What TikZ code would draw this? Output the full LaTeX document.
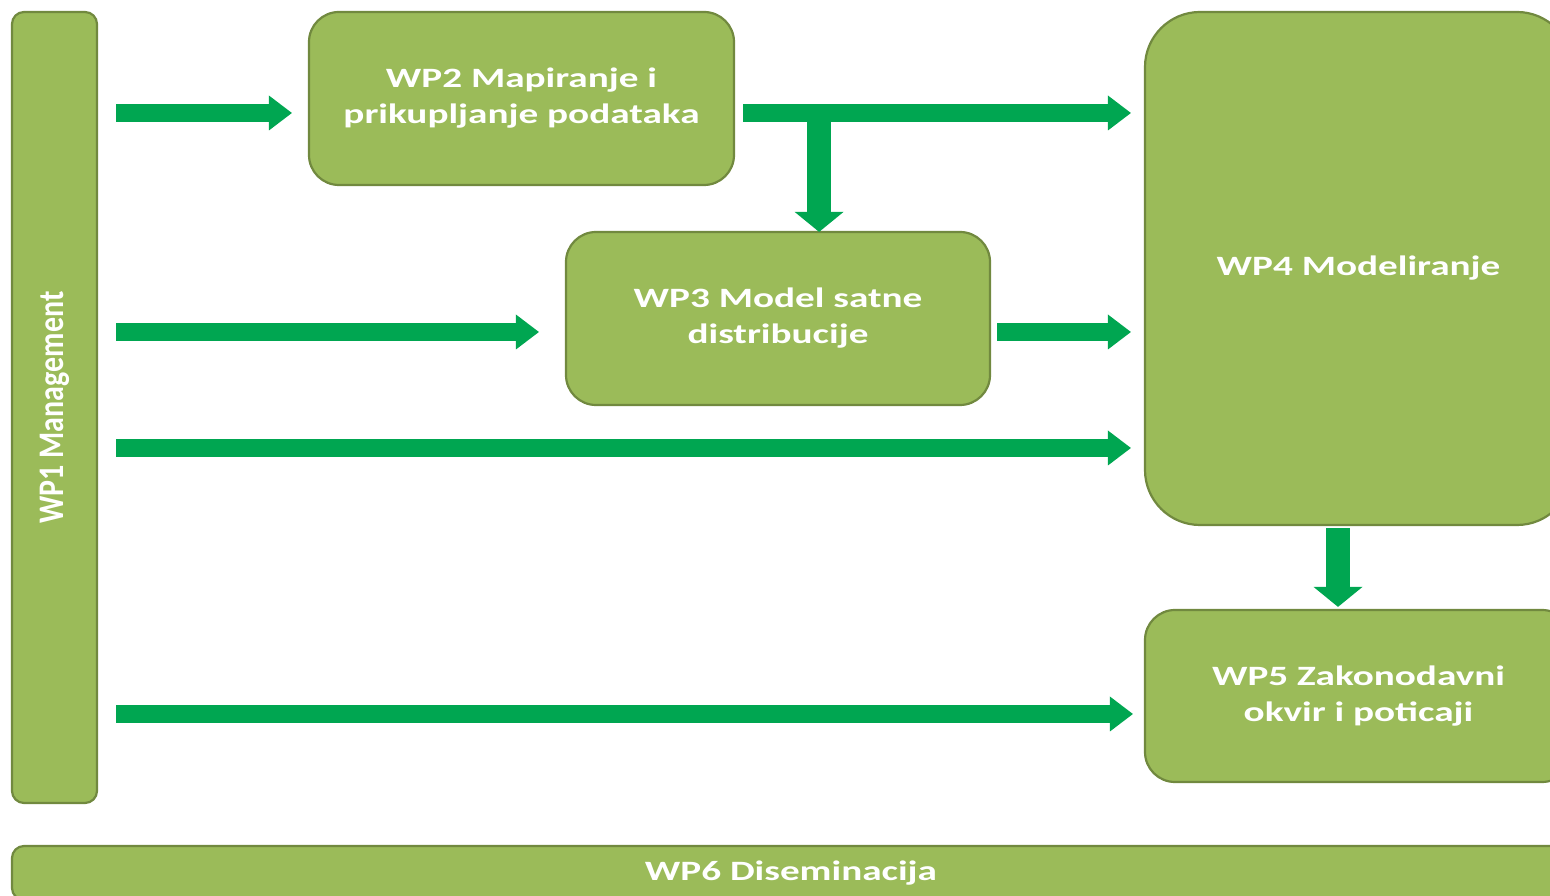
\documentclass[tikz,border=0pt]{standalone}
\usepackage{fontspec}
\setmainfont{Carlito}[FakeStretch=1.4]
\newfontfamily\vfont{Carlito}
\usetikzlibrary{arrows.meta,calc}
\definecolor{boxfill}{HTML}{9BBB59}
\definecolor{boxline}{HTML}{71893F}
\definecolor{arrgreen}{HTML}{00A651}
\begin{document}
\begin{tikzpicture}[x=1pt,y=1pt,
  wpbox/.style={draw=boxline, fill=boxfill, line width=2.2pt, inner sep=0pt,
    text=white, font=\bfseries\fontsize{28}{36}\selectfont, align=center},
  harr/.style={draw=arrgreen, line width=18pt,
    -{Triangle[length=23pt,width=35pt,line width=0pt]}},
  varr/.style={draw=arrgreen, line width=24pt,
    -{Triangle[length=20pt,width=49pt,line width=0pt]}}]
\useasboundingbox (0,0) rectangle (1550,896);
% boxes
\node[wpbox, rounded corners=12pt, minimum width=85pt, minimum height=791pt] (WP1) at (54.5,488.5) {};
\node[text=white, rotate=90, font=\vfont\bfseries\fontsize{30}{30}\selectfont] (WP1t) at (WP1.center) {\scalebox{1}[1.2]{WP1 Management}};
\node[wpbox, rounded corners=30pt, minimum width=425pt, minimum height=173pt] (WP2) at (521.5,797.5) {WP2 Mapiranje i\\prikupljanje podataka};
\node[wpbox, rounded corners=30pt, minimum width=424pt, minimum height=173pt] (WP3) at (778,577.5) {WP3 Model satne\\distribucije};
\node[wpbox, rounded corners=55pt, minimum width=427pt, minimum height=513pt] (WP4) at (1358.5,627.5) {WP4 Modeliranje};
\node[wpbox, rounded corners=30pt, minimum width=427pt, minimum height=172pt] (WP5) at (1358.5,200) {WP5 Zakonodavni\\okvir i poticaji};
\node[wpbox, rounded corners=12pt, minimum width=1558pt, minimum height=54pt] (WP6) at (791,23) {WP6 Diseminacija};
% levels
\coordinate (y1) at ($(WP2.west)+(0,-14.5)$);
\coordinate (y3) at ($(WP3.west)+(0,-13.5)$);
\coordinate (y5) at ($(WP4.west)+(0,-179.5)$);
\coordinate (y7) at ($(WP5.west)+(0,-18)$);
\coordinate (br) at ($(WP2.east)+(84,-14.5)$);
\coordinate (v6) at ($(WP4.south)+(-20.5,0)$);
% arrows
\draw[harr, shorten <=18pt, shorten >=16pt] (WP1.east |- y1) -- (y1);
\draw[harr, shorten <=8pt, shorten >=13pt] (WP2.east |- y1) -- (WP4.west |- y1);
\draw[varr, shorten >=-1pt] (br) -- (br |- WP3.north);
\draw[harr, shorten <=18pt, shorten >=26pt] (WP1.east |- y3) -- (y3);
\draw[harr, shorten <=6pt, shorten >=13pt] (WP3.east |- y3) -- (WP4.west |- y3);
\draw[harr, shorten <=18pt, shorten >=13pt] (WP1.east |- y5) -- (y5);
\draw[varr, shorten <=2pt, shorten >=2pt] (v6) -- (v6 |- WP5.north);
\draw[harr, shorten <=18pt, shorten >=11pt] (WP1.east |- y7) -- (y7);
\end{tikzpicture}
\end{document}
